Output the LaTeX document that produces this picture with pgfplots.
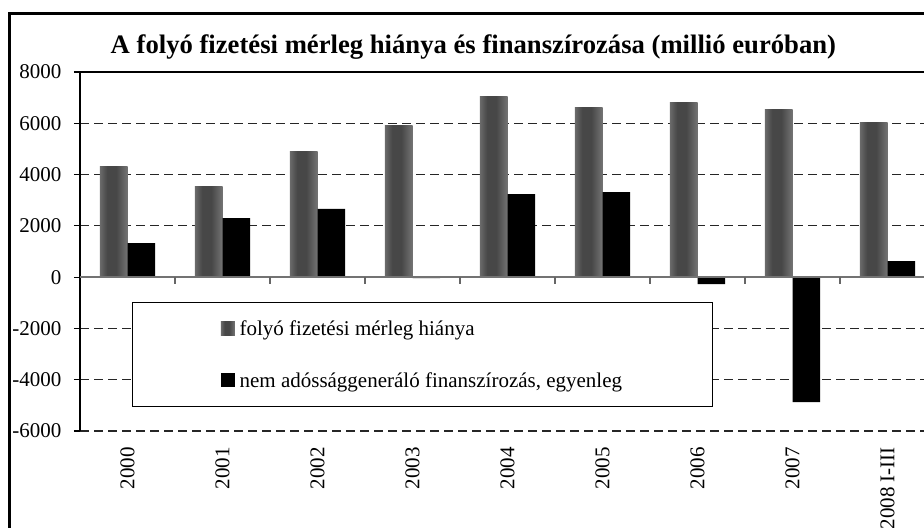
\documentclass[border=0pt]{standalone}
\usepackage{pgfplots}
\usepackage{pgfplotstable}
\pgfplotsset{compat=1.18}
\usepackage{fontspec}
\setmainfont{Liberation Serif}
\pgfdeclarehorizontalshading{cyl}{100bp}{rgb(0bp)=(0.56,0.56,0.56); rgb(15bp)=(0.52,0.52,0.52); rgb(38bp)=(0.28,0.28,0.28); rgb(55bp)=(0.28,0.28,0.28); rgb(80bp)=(0.5,0.5,0.5); rgb(100bp)=(0.61,0.61,0.61)}
\pgfplotstableread{
x g b
0 4330 1330
1 3550 2300
2 4910 2660
3 5930 -40
4 7060 3240
5 6630 3320
6 6800 -270
7 6520 -4870
8 6050 620
}\data
\newcommand\fs{\fontsize{15.75}{18}\selectfont}
\begin{document}
\begin{tikzpicture}
\begin{axis}[
  at={(80*0.75pt,-431*0.75pt)}, anchor=south west,
  scale only axis, width=641.25pt, height=269.25pt,
  xmin=-0.5, xmax=8.5, ymin=-6000, ymax=8000,
  clip=false,
  axis x line*=bottom, axis y line*=left,
  x axis line style={draw=none},
  y axis line style={black, line width=0.9pt},
  xtick={0,1,2,3,4,5,6,7,8},
  xticklabels={2000,2001,2002,2003,2004,2005,2006,2007,2008 I-III},
  xtick style={draw=none},
  x tick label style={rotate=90, anchor=east, inner sep=0pt, font=\fs},
  xticklabel shift=7.5pt,
  ytick={-6000,-4000,-2000,0,2000,4000,6000,8000},
  yticklabels={-6000,-4000,-2000,0,2000,4000,6000,8000},
  ytick style={black, line width=0.9pt},
  y tick label style={inner sep=0pt, font=\fs},
  yticklabel shift=9.25pt,
  tick align=outside, major tick length=4.5pt,
  ymajorgrids,
  grid style={black!85, dash pattern=on 6.75pt off 3.75pt, line width=0.9pt},
  legend style={at={(axis description cs:0.0605,0.3602)}, anchor=north west,
    draw=black, line width=1pt, fill=white, font=\fs,
    inner xsep=66.4pt, inner ysep=0.4pt, row sep=0pt,
    nodes={inner sep=0pt, text height=24.75pt, text depth=14pt}},
  legend cell align=left,
  legend image code/.code={\path[#1] (0pt,-5.25pt) rectangle (10.5pt,5.25pt);},
]
\addlegendimage{draw=none, shade, shading=cyl}
\addlegendentry{\makebox[292pt][l]{\hspace{3.5pt}folyó fizetési mérleg hiánya}}
\addlegendimage{draw=none, fill=black}
\addlegendentry{\makebox[292pt][l]{\hspace{3.5pt}nem adóssággeneráló finanszírozás, egyenleg}}
\pgfplotsinvokeforeach{0,1,2,3,4,5,6,7,8}{
  \addplot[ybar, bar width=20.7pt, bar shift=-10.35pt, draw=none, shade, shading=cyl, forget plot,
    restrict x to domain=#1:#1] table[x=x, y=g] {\data};
}
\addplot[ybar, bar width=20.7pt, bar shift=10.35pt, draw=none, fill=black, forget plot] table[x=x, y=b] {\data};
\draw[black, line width=0.9pt] (axis cs:-0.5,8000) -- (axis cs:8.5,8000);
\draw[black!55, line width=1.5pt] (axis cs:-0.5,0) -- (axis cs:8.5,0);
\pgfplotsinvokeforeach{0.5,1.5,2.5,3.5,4.5,5.5,6.5,7.5}{
  \draw[black!60, line width=0.8pt] (axis cs:#1,0) -- ([yshift=-5pt]axis cs:#1,0);
}
\end{axis}
\node[anchor=base, font=\bfseries\fontsize{20}{22}\selectfont] at (473.4*0.75pt,-53.3*0.75pt)
  {A folyó fizetési mérleg hiánya és finanszírozása (millió euróban)};
\draw[black, line width=2.25pt] (9.7*0.75pt,-13.8*0.75pt) rectangle (960*0.75pt,-570*0.75pt);
\pgfresetboundingbox
\path[use as bounding box] (0,0) rectangle (693pt,-396pt);
\end{tikzpicture}
\end{document}
